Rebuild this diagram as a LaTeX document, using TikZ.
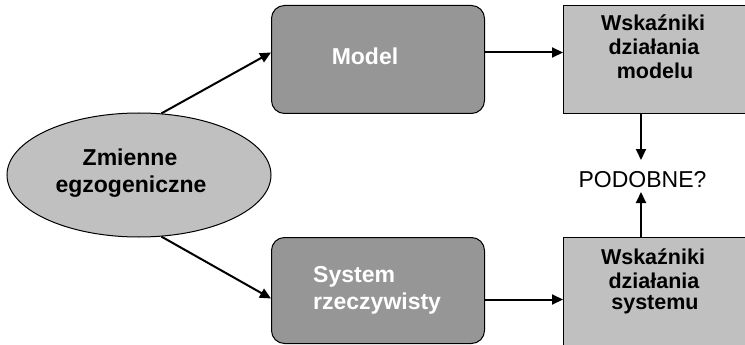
\documentclass[tikz,border=0pt]{standalone}
\usepackage{fontspec}
\setmainfont{Liberation Sans}
\usetikzlibrary{arrows.meta,shapes.geometric,calc}
\definecolor{darkbox}{HTML}{969696}
\definecolor{lightbox}{HTML}{C0C0C0}
\begin{document}
\begin{tikzpicture}[x=1pt,y=-1pt,
  dbox/.style={draw=black,line width=1pt,fill=darkbox,rounded corners=13pt,inner sep=0pt,anchor=north west,minimum width=213pt},
  lbox/.style={draw=black,line width=1pt,fill=lightbox,inner sep=0pt,anchor=north west,minimum width=192pt},
  ell/.style={ellipse,draw=black,line width=1pt,fill=lightbox,inner sep=0pt,minimum width=264pt,minimum height=124pt},
  bigtxt/.style={inner sep=0pt,font=\fontsize{23}{27}\selectfont\bfseries},
  smalltxt/.style={inner sep=0pt,anchor=base,font=\fontsize{21.5}{24}\selectfont\bfseries},
  regtxt/.style={inner sep=0pt,anchor=base,font=\fontsize{23}{27}\selectfont},
  arr/.style={line width=2pt,-{Triangle[length=11pt,width=10pt]}}
]
\useasboundingbox (0,0) rectangle (745,345);
\clip (0,0) rectangle (745,345);

% shapes
\node[ell] (ell) at (139,175) {};
\node[dbox,minimum height=108pt] (model) at (271,5) {};
\node[dbox,minimum height=106pt] (system) at (271,237) {};
\node[lbox,minimum height=108pt] (wtop) at (563,5) {};
\node[lbox,minimum height=120pt] (wbot) at (563,237) {};

% texts
\node[bigtxt,anchor=base] (zm1) at (130,165) {Zmienne};
\node[bigtxt,anchor=base] (zm2) at (131,192) {egzogeniczne};
\node[bigtxt,anchor=base,text=white] (modtxt) at (365,65) {Model};
\node[bigtxt,anchor=base west,text=white] (sys1) at (313,282) {System};
\node[bigtxt,anchor=base west,text=white] (sys2) at (313,309) {rzeczywisty};
\node[smalltxt] (wt1) at (653,31) {Wskaźniki};
\node[smalltxt] (wt2) at (654,55) {działania};
\node[smalltxt] (wt3) at (655,78) {modelu};
\node[smalltxt] (wb1) at (653,264) {Wskaźniki};
\node[smalltxt] (wb2) at (654,288) {działania};
\node[smalltxt] (wb3) at (655,309) {systemu};
\node[regtxt] (pod) at (642.5,187) {PODOBNE?};

% connector end points
\coordinate (min) at ($(model.west)+(0,-7)$);
\coordinate (mout) at ($(model.east)+(0,-7)$);
\coordinate (sin) at ($(system.west)+(0,8)$);
\coordinate (sout) at ($(system.east)+(0,9)$);
\coordinate (pt) at (641,160);
\coordinate (pb) at (641,192);

% connectors
\draw[arr] (ell.70) -- (min);
\draw[arr] (ell.-70) -- (sin);
\draw[arr] (mout) -- (mout -| wtop.west);
\draw[arr] (sout) -- (sout -| wbot.west);
\draw[arr] (wtop.south -| pt) -- (pt);
\draw[arr] (wbot.north -| pb) -- (pb);
\end{tikzpicture}
\end{document}
